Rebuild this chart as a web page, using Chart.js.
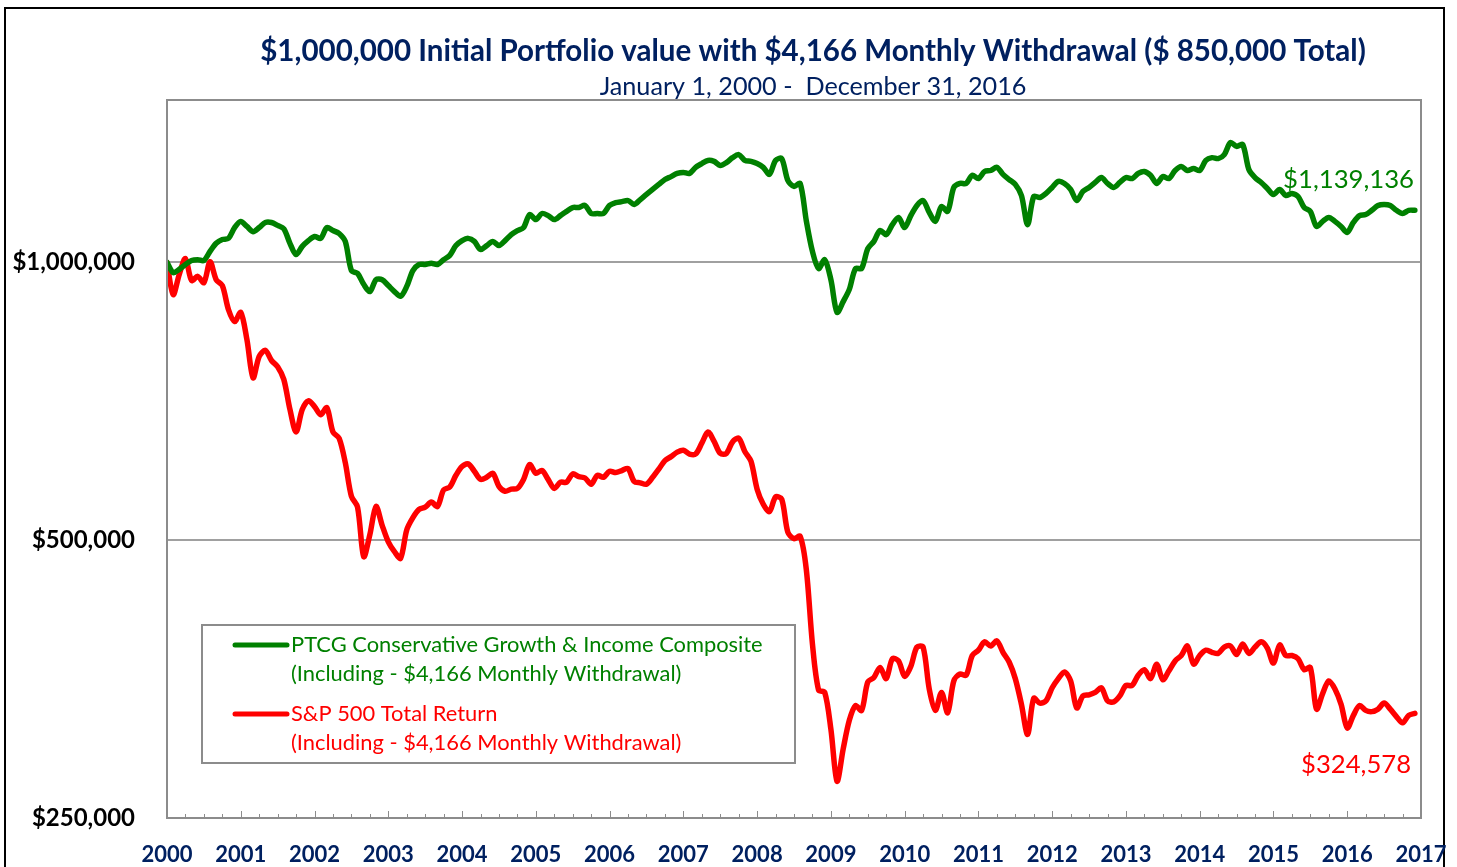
<!DOCTYPE html>
<html>
<head>
<meta charset="utf-8">
<script src="https://cdn.jsdelivr.net/npm/chart.js@4.4.1/dist/chart.umd.min.js"></script>
<style>
  html, body { margin: 0; padding: 0; background: #fff; }
</style>
</head>
<body>
<canvas id="myChart" width="1457" height="867"></canvas>
<script>
// year labels on the x axis (one every 12 months)
const years = [2000, 2001, 2002, 2003, 2004, 2005, 2006, 2007, 2008,
  2009, 2010, 2011, 2012, 2013, 2014, 2015, 2016, 2017];

// y axis ticks (log scale)
const yTicks = [250000, 500000, 1000000];

// month-end portfolio values, in thousands of dollars, Jan 2000 .. Dec 2016
const ptcgK = [
  1000, 975, 983, 995, 1005, 1007, 1005, 1028, 1049, 1059, 1062, 1091,
  1108, 1094, 1080, 1091, 1105, 1105, 1097, 1088, 1049, 1020, 1041, 1056,
  1067, 1062, 1091, 1083, 1075, 1054, 980, 973, 947, 930, 958, 958,
  944, 930, 919, 942, 980, 995, 995, 998, 995, 1007, 1018, 1043,
  1056, 1062, 1054, 1033, 1043, 1054, 1043, 1056, 1072, 1083, 1091, 1127,
  1113, 1130, 1124, 1113, 1124, 1136, 1147, 1147, 1153, 1130, 1130, 1130,
  1153, 1161, 1164, 1167, 1156, 1170, 1185, 1200, 1215, 1230, 1239, 1249,
  1252, 1249, 1268, 1280, 1290, 1287, 1274, 1283, 1299, 1309, 1290, 1287,
  1280, 1268, 1246, 1290, 1296, 1227, 1209, 1218, 1110, 1028, 985, 1007,
  958, 883, 907, 935, 985, 985, 1035, 1054, 1083, 1072, 1099, 1119,
  1091, 1124, 1153, 1167, 1133, 1108, 1150, 1136, 1206, 1218, 1218, 1243,
  1233, 1255, 1258, 1268, 1246, 1230, 1215, 1182, 1099, 1179, 1176, 1188,
  1206, 1224, 1218, 1200, 1167, 1194, 1206, 1221, 1236, 1218, 1206, 1221,
  1236, 1233, 1249, 1255, 1243, 1218, 1239, 1233, 1258, 1271, 1258, 1264,
  1258, 1290, 1299, 1296, 1309, 1349, 1336, 1342, 1261, 1236, 1221, 1203,
  1185, 1200, 1182, 1188, 1179, 1147, 1136, 1094, 1108, 1119, 1108, 1094,
  1078, 1105, 1124, 1127, 1139, 1153, 1156, 1153, 1139, 1130, 1139, 1139.136
];

const sp500K = [
  1000, 923, 971, 1010, 956, 966, 951, 1002, 958, 944, 889, 863,
  883, 825, 750, 791, 803, 783, 771, 747, 693, 655, 693, 708,
  698, 684, 696, 655, 645, 607, 558, 543, 480, 507, 544, 519,
  498, 486, 478, 513, 529, 540, 543, 550, 544, 567, 571, 588,
  601, 605, 594, 582, 585, 591, 572, 565, 568, 569, 582, 604,
  591, 595, 582, 569, 578, 578, 590, 586, 584, 575, 588, 585,
  594, 592, 595, 598, 579, 577, 575, 585, 597, 610, 616, 623,
  626, 620, 620, 637, 655, 640, 621, 621, 639, 645, 624, 609,
  568, 547, 537, 557, 554, 510, 502, 505, 465, 386, 344, 342,
  312, 274, 297, 319, 331, 327, 351, 355, 364, 354, 372, 370,
  356, 365, 383, 383, 345, 327, 342, 325, 352, 358, 357, 375,
  380, 388, 384, 389, 378, 369, 354, 332, 308, 337, 333, 335,
  346, 354, 360, 352, 329, 339, 340, 342, 346, 335, 334, 339,
  348, 348, 357, 362, 354, 367, 353, 361, 370, 375, 384, 367,
  375, 380, 378, 377, 383, 384, 376, 386, 377, 383, 388, 382,
  368, 385, 375, 375, 372, 362, 364, 328, 341, 352, 345, 332,
  313, 323, 331, 327, 326, 328, 333, 328, 322, 317, 323, 324.578
];

const seriesNames = [
  ["PTCG Conservative Growth & Income Composite", "(Including - $4,166 Monthly Withdrawal)"],
  ["S&P 500 Total Return", "(Including - $4,166 Monthly Withdrawal)"]
];
const title = "$1,000,000 Initial Portfolio value with $4,166 Monthly Withdrawal ($ 850,000 Total)";
const subtitle = "January 1, 2000 -  December 31, 2016";

const GREEN = "#008000";
const RED = "#ff0000";
const NAVY = "#002060";
const FONT = "Lato";

function money(v) {
  return "$" + Math.round(v).toLocaleString("en-US");
}

// font size so that text fills a given width
function fitSize(ctx, text, weight, target) {
  ctx.font = weight + " 20px " + FONT;
  return 20 * target / ctx.measureText(text).width;
}

const decorations = {
  id: "decorations",
  beforeDraw(chart) {
    const ctx = chart.ctx;
    ctx.save();
    ctx.strokeStyle = "#000";
    ctx.lineWidth = 2;
    ctx.strokeRect(5, 8, 1439, 900);
    ctx.restore();
  },
  afterDraw(chart) {
    const ctx = chart.ctx;
    const area = chart.chartArea;
    const xs = chart.scales.x;
    ctx.save();

    // plot frame
    ctx.strokeStyle = "#8c8c8c";
    ctx.lineWidth = 2;
    ctx.strokeRect(area.left, area.top, area.right - area.left, area.bottom - area.top);

    // quarter tick marks pointing into the plot
    ctx.lineWidth = 1;
    for (let m = 0; m <= 204; m += 3) {
      const px = Math.round(xs.getPixelForValue(m)) + 0.5;
      const len = m % 12 === 0 ? 7 : 4;
      ctx.beginPath();
      ctx.moveTo(px, area.bottom);
      ctx.lineTo(px, area.bottom - len);
      ctx.stroke();
    }

    // title + subtitle
    ctx.fillStyle = NAVY;
    ctx.textAlign = "center";
    ctx.textBaseline = "middle";
    let s = fitSize(ctx, title, "bold", 1106);
    ctx.font = "bold " + s + "px " + FONT;
    ctx.fillText(title, 813, 51);
    s = fitSize(ctx, subtitle, "normal", 427);
    ctx.font = s + "px " + FONT;
    ctx.fillText(subtitle, 813, 87);

    // end value labels
    const ys = chart.scales.y;
    ctx.textAlign = "right";
    const gEnd = ptcgK[ptcgK.length - 1] * 1000;
    const rEnd = sp500K[sp500K.length - 1] * 1000;
    s = fitSize(ctx, money(gEnd), "normal", 131);
    ctx.font = s + "px " + FONT;
    ctx.fillStyle = GREEN;
    ctx.fillText(money(gEnd), 1414, ys.getPixelForValue(gEnd) - 31);
    s = fitSize(ctx, money(rEnd), "normal", 110);
    ctx.font = s + "px " + FONT;
    ctx.fillStyle = RED;
    ctx.fillText(money(rEnd), 1411, ys.getPixelForValue(rEnd) + 51);

    // legend box
    ctx.fillStyle = "#fff";
    ctx.fillRect(202, 625, 593, 138);
    ctx.strokeStyle = "#8c8c8c";
    ctx.lineWidth = 2;
    ctx.strokeRect(202, 625, 593, 138);
    const ls = fitSize(ctx, seriesNames[0][0], "normal", 472);
    ctx.font = ls + "px " + FONT;
    ctx.textAlign = "left";
    const colors = [GREEN, RED];
    const rows = [645, 714];
    seriesNames.forEach((lines, k) => {
      const y0 = rows[k];
      ctx.strokeStyle = colors[k];
      ctx.lineWidth = 5;
      ctx.lineCap = "round";
      ctx.beginPath();
      ctx.moveTo(235, y0);
      ctx.lineTo(287, y0);
      ctx.stroke();
      ctx.fillStyle = colors[k];
      ctx.fillText(lines[0], 291, y0);
      ctx.fillText(lines[1], 291, y0 + 29);
    });
    ctx.restore();
  }
};

new Chart("myChart", {
  type: "line",
  data: {
    datasets: [{
      label: seriesNames[0].join(" "),
      data: ptcgK.map((v, i) => ({ x: i, y: v * 1000 })),
      borderColor: GREEN,
      fill: false
    }, {
      label: seriesNames[1].join(" "),
      data: sp500K.map((v, i) => ({ x: i, y: v * 1000 })),
      borderColor: RED,
      fill: false
    }]
  },
  options: {
    responsive: false,
    animation: false,
    devicePixelRatio: 1,
    layout: { padding: { top: 100, right: 36, left: 0, bottom: 0 } },
    elements: {
      point: { radius: 0 },
      line: { borderWidth: 5.5, tension: 0.3, borderCapStyle: "round", borderJoinStyle: "round" }
    },
    plugins: {
      legend: { display: false },
      tooltip: { enabled: false }
    },
    scales: {
      x: {
        type: "linear",
        min: 0,
        max: 204,
        afterBuildTicks: scale => { scale.ticks = years.map((y, i) => ({ value: i * 12 })); },
        afterFit: scale => {
          scale.height = 49;
          scale.paddingLeft = 0;
          scale.paddingRight = 0;
        },
        ticks: {
          autoSkip: false,
          maxRotation: 0,
          padding: 24,
          color: NAVY,
          font: { family: FONT, size: 22, weight: "bold" },
          callback: v => years[Math.round(v / 12)]
        },
        grid: { display: false, drawTicks: false },
        border: { display: false }
      },
      y: {
        type: "logarithmic",
        min: 250000,
        max: 1500000,
        afterBuildTicks: scale => { scale.ticks = yTicks.map(v => ({ value: v })); },
        afterFit: scale => { scale.width = 167; },
        ticks: {
          padding: 32,
          color: "#000",
          font: { family: FONT, size: 24, weight: "bold" },
          callback: v => money(v)
        },
        grid: { color: "#a0a0a0", lineWidth: 2, drawTicks: false },
        border: { display: false }
      }
    }
  },
  plugins: [decorations]
});
</script>
</body>
</html>
